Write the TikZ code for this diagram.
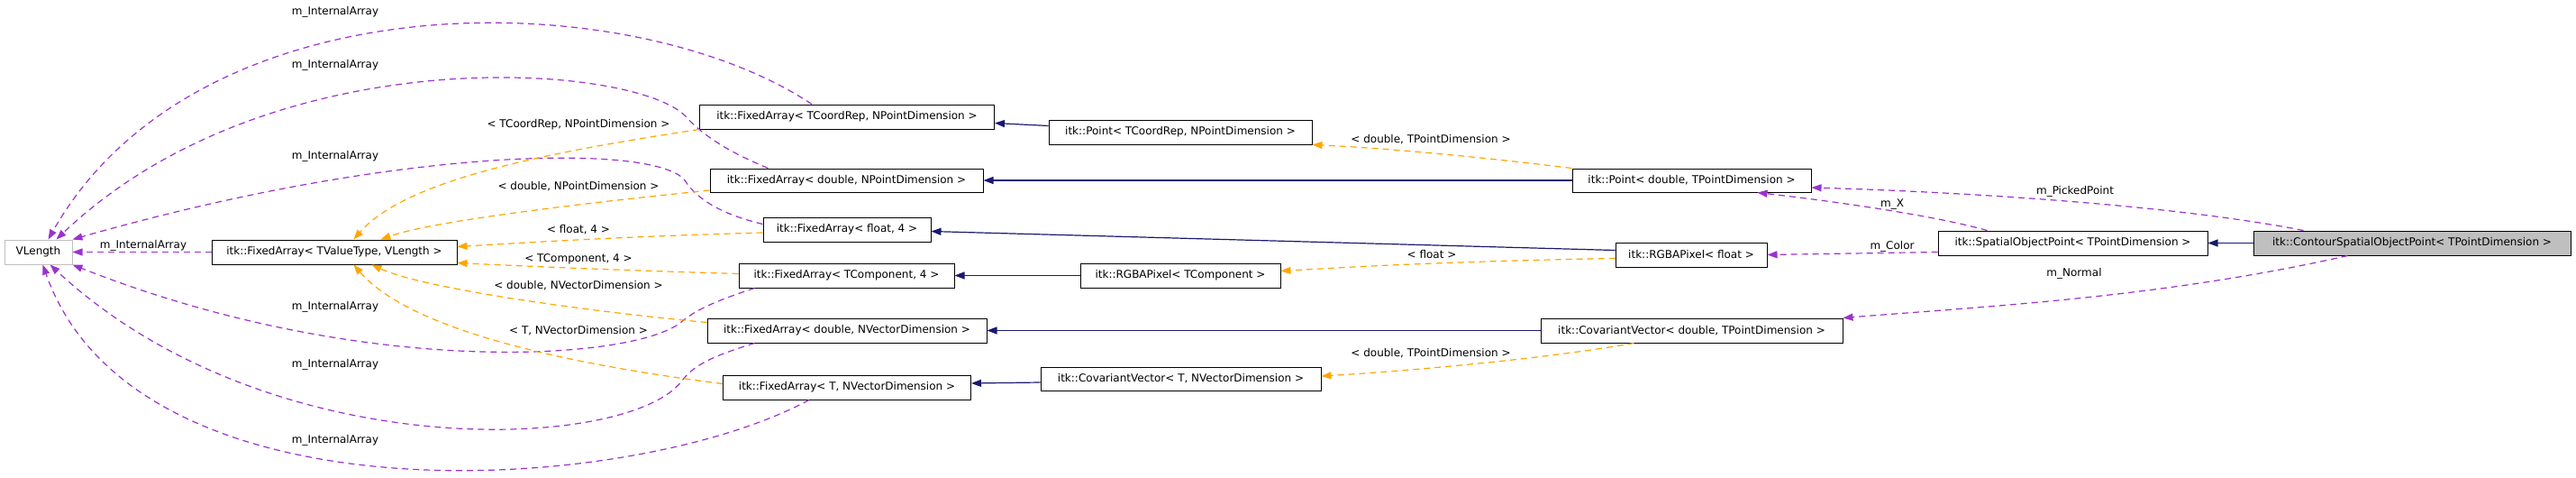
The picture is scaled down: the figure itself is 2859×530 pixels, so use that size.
\documentclass[tikz,border=0pt]{standalone}
\usepackage{fontspec}
\setmainfont{DejaVu Sans}
\usetikzlibrary{arrows.meta,calc}
\definecolor{purp}{HTML}{9A32CD}
\definecolor{orng}{HTML}{FFA500}
\definecolor{navyb}{HTML}{191970}
\definecolor{grayb}{HTML}{BFBFBF}
\begin{document}
\begin{tikzpicture}[x=1pt,y=-1pt,
  every node/.style={font=\fontsize{12}{14}\selectfont},
  cls/.style={draw=black,line width=1pt,inner sep=0pt,minimum height=27pt,fill=white},
  usage/.style={draw=purp,line width=1.2pt,dash pattern=on 7pt off 5pt,-{Triangle[length=11pt,width=8pt]}},
  tmpl/.style={draw=orng,line width=1.2pt,dash pattern=on 7pt off 5pt,-{Triangle[length=11pt,width=8pt]}},
  inh/.style={draw=navyb,line width=1.2pt,-{Triangle[length=11pt,width=8pt]}},
  lbl/.style={inner sep=0pt}]
\useasboundingbox (0,0) rectangle (2859,530);
% nodes
\node[cls,draw=grayb,minimum width=75pt] (VL) at (42.5,279.5) {VLength};
\node[cls,minimum width=272pt] (FT) at (371,279.5) {itk::FixedArray< TValueType, VLength >};
\node[cls,minimum width=327pt] (FCR) at (940,129.5) {itk::FixedArray< TCoordRep, NPointDimension >};
\node[cls,minimum width=292pt] (PCR) at (1310,146.5) {itk::Point< TCoordRep, NPointDimension >};
\node[cls,minimum width=303pt,minimum height=26pt] (FDP) at (939.5,200) {itk::FixedArray< double, NPointDimension >};
\node[cls,minimum width=186pt] (FF4) at (940,254.5) {itk::FixedArray< float, 4 >};
\node[cls,minimum width=239pt] (FTC4) at (939.5,305.5) {itk::FixedArray< TComponent, 4 >};
\node[cls,minimum width=222pt] (RGBT) at (1310,305.5) {itk::RGBAPixel< TComponent >};
\node[cls,minimum width=310pt] (FDV) at (940,366.5) {itk::FixedArray< double, NVectorDimension >};
\node[cls,minimum width=275pt] (FTV) at (940,429.5) {itk::FixedArray< T, NVectorDimension >};
\node[cls,minimum width=311pt,minimum height=26pt] (CVT) at (1310.5,420) {itk::CovariantVector< T, NVectorDimension >};
\node[cls,minimum width=265pt,minimum height=26pt] (PD) at (1877.5,200) {itk::Point< double, TPointDimension >};
\node[cls,minimum width=168pt] (RGBF) at (1877,282.5) {itk::RGBAPixel< float >};
\node[cls,minimum width=335pt] (CVD) at (1877.5,366.5) {itk::CovariantVector< double, TPointDimension >};
\node[cls,minimum width=299pt] (SOP) at (2300.5,269.5) {itk::SpatialObjectPoint< TPointDimension >};
\node[cls,fill=grayb,minimum width=352pt] (CSOP) at (2677,269.5) {itk::ContourSpatialObjectPoint< TPointDimension >};
% usage edges to VLength
\draw[usage] ($(FCR.north west)+(125,0)$) .. controls (700,-18) and (220,-28) .. ($(VL.north west)+(49,0)$);
\draw[usage] ($(FDP.north west)+(65,0)$) .. controls (800,165) and (775,145) .. (760,128) .. controls (700,70) and (300,40) .. ($(VL.north west)+(58,0)$);
\draw[usage] ($(FF4.west)+(0,-6)$) .. controls (790,235) and (770,215) .. (760,200) .. controls (730,160) and (450,160) .. (VL.north east);
\draw[usage] (FT.west) -- (VL.east);
\draw[usage] ($(FTC4.south west)+(18,0)$) .. controls (790,335) and (770,345) .. (755,358) .. controls (700,400) and (400,420) .. (VL.south east);
\draw[usage] ($(FDV.south west)+(53,0)$) .. controls (790,395) and (770,405) .. (757,422) .. controls (700,500) and (300,520) .. ($(VL.south west)+(51,0)$);
\draw[usage] ($(FTV.south west)+(96,0)$) .. controls (700,550) and (150,585) .. ($(VL.south west)+(43,0)$);
\node[lbl] (l1) at (372,13) {m\_InternalArray};
\node[lbl] (l2) at (372,72) {m\_InternalArray};
\node[lbl] (l3) at (372,173) {m\_InternalArray};
\node[lbl] (l4) at (159,272) {m\_InternalArray};
\node[lbl] (l5) at (372,340) {m\_InternalArray};
\node[lbl] (l6) at (372,404) {m\_InternalArray};
\node[lbl] (l7) at (372,488) {m\_InternalArray};
% template edges to FT
\draw[tmpl] (FCR.south west) .. controls (600,170) and (450,200) .. ($(FT.north west)+(158,0)$);
\draw[tmpl] ($(FDP.west)+(0,11)$) .. controls (650,225) and (480,245) .. ($(FT.north west)+(188,0)$);
\draw[tmpl] ($(FF4.west)+(0,3.5)$) .. controls (700,262) and (600,268) .. ($(FT.east)+(0,-6)$);
\draw[tmpl] ($(FTC4.west)+(0,-2)$) .. controls (700,300) and (600,296) .. ($(FT.east)+(0,12)$);
\draw[tmpl] ($(FDV.west)+(0,-9)$) .. controls (650,345) and (470,320) .. ($(FT.south west)+(178,0)$);
\draw[tmpl] ($(FTV.west)+(0,-4)$) .. controls (600,400) and (450,360) .. ($(FT.south west)+(158,0)$);
\node[lbl] at (642,138) {< TCoordRep, NPointDimension >};
\node[lbl] at (642,207) {< double, NPointDimension >};
\node[lbl] at (642,255) {< float, 4 >};
\node[lbl] at (642,287) {< TComponent, 4 >};
\node[lbl] at (642,317) {< double, NVectorDimension >};
\node[lbl] at (642,367) {< T, NVectorDimension >};
% other template edges
\draw[tmpl] (PD.north west) .. controls (1650,175) and (1550,165) .. (PCR.south east);
\draw[tmpl] ($(RGBF.west)+(0,4)$) .. controls (1600,290) and (1500,296) .. ($(RGBT.east)+(0,-5)$);
\draw[tmpl] ($(CVD.south west)+(104,0)$) .. controls (1700,400) and (1550,412) .. ($(CVT.east)+(0,-3)$);
\node[lbl] at (1588,155) {< double, TPointDimension >};
\node[lbl] at (1589,282) {< float >};
\node[lbl] at (1588,392) {< double, TPointDimension >};
% inheritance
\draw[inh] ($(PCR.west)+(0,-7)$) -- ($(FCR.east)+(0,7)$);
\draw[inh] (PD.west) -- (FDP.east);
\draw[inh] ($(RGBF.west)+(0,-5)$) -- ($(FF4.east)+(0,2)$);
\draw[inh] (RGBT.west) -- (FTC4.east);
\draw[inh] (CVD.west) -- (FDV.east);
\draw[inh] ($(CVT.west)+(0,4)$) -- ($(FTV.east)+(0,-4.5)$);
\draw[inh] (CSOP.west) -- (SOP.east);
% usage right side
\draw[usage] ($(CSOP.north west)+(56,0)$) .. controls (2400,225) and (2150,212) .. ($(PD.east)+(0,8)$);
\draw[usage] ($(SOP.north west)+(55,0)$) .. controls (2150,240) and (2050,225) .. ($(PD.south east)+(-60,0)$);
\draw[usage] ($(SOP.west)+(0,10)$) -- (RGBF.east);
\draw[usage] ($(CSOP.south west)+(105,0)$) .. controls (2400,330) and (2200,340) .. (CVD.north east);
\node[lbl] at (2303,212) {m\_PickedPoint};
\node[lbl] at (2100,227) {m\_X};
\node[lbl] at (2100,273) {m\_Color};
\node[lbl] at (2302,303) {m\_Normal};
\end{tikzpicture}
\end{document}
